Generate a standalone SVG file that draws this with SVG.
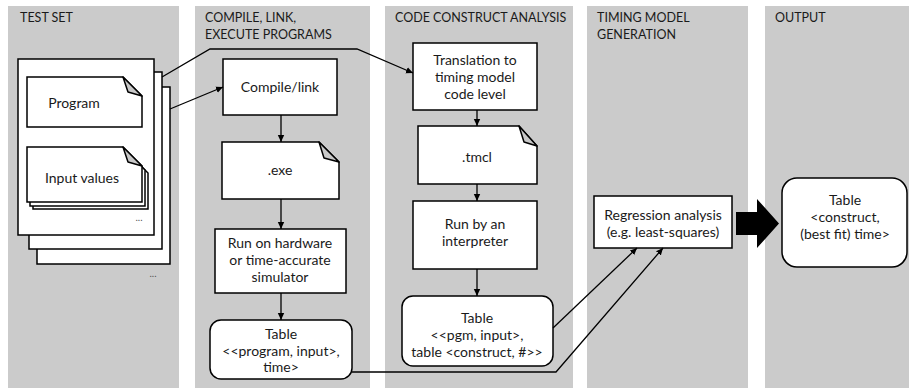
<svg xmlns="http://www.w3.org/2000/svg" width="909" height="388" viewBox="0 0 909 388">
<style>
.lane{fill:#cbcbcb}
.hd{font-family:Lato,"Liberation Sans",sans-serif;font-size:12.5px;fill:#1a1a1a}
.t{font-family:Lato,"Liberation Sans",sans-serif;font-size:14px;fill:#1a1a1a;text-anchor:middle}
.box{fill:#fff;stroke:#000;stroke-width:1.5}
.fold{fill:#c8c8c8;stroke:#000;stroke-width:1.5;stroke-linejoin:round}
.c{fill:none;stroke:#000;stroke-width:1.3}
</style>
<defs>
<marker id="ah" markerWidth="8" markerHeight="8" refX="7" refY="4" orient="auto" markerUnits="userSpaceOnUse">
<path d="M0,0.8 L7,4 L0,7.2 Z" fill="#000"/>
</marker>
</defs>
<rect width="909" height="388" fill="#fff"/>
<g id="lanes">
<rect class="lane" x="8" y="6" width="171" height="382"/>
<rect class="lane" x="195" y="6" width="175" height="382"/>
<rect class="lane" x="385" y="6" width="188" height="382"/>
<rect class="lane" x="587" y="6" width="161" height="382"/>
<rect class="lane" x="765" y="6" width="144" height="382"/>
<text class="hd" x="20" y="22">TEST SET</text>
<text class="hd" x="205" y="22">COMPILE, LINK,</text>
<text class="hd" x="205" y="39">EXECUTE PROGRAMS</text>
<text class="hd" x="395" y="22">CODE CONSTRUCT ANALYSIS</text>
<text class="hd" x="597" y="22">TIMING MODEL</text>
<text class="hd" x="597" y="39">GENERATION</text>
<text class="hd" x="775" y="22">OUTPUT</text>
</g>
<g id="testset">
<rect class="box" x="37" y="87" width="133" height="177"/>
<rect class="box" x="29" y="72" width="133" height="177"/>
<rect class="box" x="18" y="59" width="136" height="176"/>
<text class="t" x="153" y="277" style="font-size:10px;fill:#555">...</text>
</g>
<g id="program">
<path class="box" d="M27,77 H123 L142,96 V127 H27 Z"/>
<path class="fold" d="M123,77 L128,92 L142,96 Z"/>
<text class="t" x="74" y="108">Program</text>
</g>
<g id="inputvalues">
<path class="box" d="M33,154 H129 L148,173 V209 H33 Z"/>
<path class="box" d="M30,151 H126 L145,170 V206 H30 Z"/>
<path class="box" d="M27,147 H123 L142,166 V202 H27 Z"/>
<path class="fold" d="M123,147 L128,162 L142,166 Z"/>
<text class="t" x="82" y="183">Input values</text>
<text class="t" x="139" y="221" style="font-size:10px;fill:#555">...</text>
</g>
<g id="compile">
<rect class="box" x="223" y="59" width="114" height="56"/>
<text class="t" x="280" y="92">Compile/link</text>
</g>
<g id="exe">
<path class="box" d="M222,142 H319 L339,162 V199 H222 Z"/>
<path class="fold" d="M319,142 L324,158 L339,162 Z"/>
<text class="t" x="280" y="175">.exe</text>
</g>
<g id="runhw">
<rect class="box" x="215" y="229" width="131" height="64"/>
<text class="t" x="280" y="248">Run on hardware</text>
<text class="t" x="280" y="265">or time-accurate</text>
<text class="t" x="280" y="282">simulator</text>
</g>
<g id="table1">
<rect class="box" x="210" y="320" width="142" height="59" rx="11"/>
<text class="t" x="281" y="339">Table</text>
<text class="t" x="281" y="356">&lt;&lt;program, input&gt;,</text>
<text class="t" x="281" y="372">time&gt;</text>
</g>
<g id="translation">
<rect class="box" x="413" y="43" width="124" height="67"/>
<text class="t" x="475" y="65">Translation to</text>
<text class="t" x="475" y="82">timing model</text>
<text class="t" x="475" y="99">code level</text>
</g>
<g id="tmcl">
<path class="box" d="M418,126 H519 L537,146 V184 H418 Z"/>
<path class="fold" d="M519,126 L524,142 L537,146 Z"/>
<text class="t" x="477" y="162">.tmcl</text>
</g>
<g id="runby">
<rect class="box" x="413" y="201" width="124" height="68"/>
<text class="t" x="475" y="229">Run by an</text>
<text class="t" x="475" y="246">interpreter</text>
</g>
<g id="table2">
<rect class="box" x="402" y="296" width="151" height="70" rx="11"/>
<text class="t" x="477" y="323">Table</text>
<text class="t" x="477" y="340">&lt;&lt;pgm, input&gt;,</text>
<text class="t" x="477" y="357">table &lt;construct, #&gt;&gt;</text>
</g>
<g id="regression">
<rect class="box" x="594" y="196" width="138" height="52"/>
<text class="t" x="663" y="220">Regression analysis</text>
<text class="t" x="663" y="237">(e.g. least-squares)</text>
</g>
<g id="bigarrow">
<path d="M736,212 H757 V199 L779,223.5 L757,248 V235 H736 Z" fill="#000"/>
</g>
<g id="output">
<rect class="box" x="782" y="178" width="125" height="89" rx="15"/>
<text class="t" x="845" y="205">Table</text>
<text class="t" x="845" y="222">&lt;construct,</text>
<text class="t" x="845" y="239">(best fit) time&gt;</text>
</g>
<g id="connectors">
<polyline class="c" points="162,77 210,49 357,49 413,73" marker-end="url(#ah)"/>
<line class="c" x1="170" y1="109" x2="223" y2="87" marker-end="url(#ah)"/>
<line class="c" x1="281" y1="115" x2="281" y2="142" marker-end="url(#ah)"/>
<line class="c" x1="281" y1="199" x2="281" y2="229" marker-end="url(#ah)"/>
<line class="c" x1="281" y1="293" x2="281" y2="320" marker-end="url(#ah)"/>
<line class="c" x1="477" y1="110" x2="477" y2="126" marker-end="url(#ah)"/>
<line class="c" x1="477" y1="184" x2="477" y2="201" marker-end="url(#ah)"/>
<line class="c" x1="477" y1="269" x2="477" y2="296" marker-end="url(#ah)"/>
<line class="c" x1="553" y1="328" x2="637" y2="248" marker-end="url(#ah)"/>
<polyline class="c" points="352,372 556,372 663,248" marker-end="url(#ah)"/>
</g>
</svg>
